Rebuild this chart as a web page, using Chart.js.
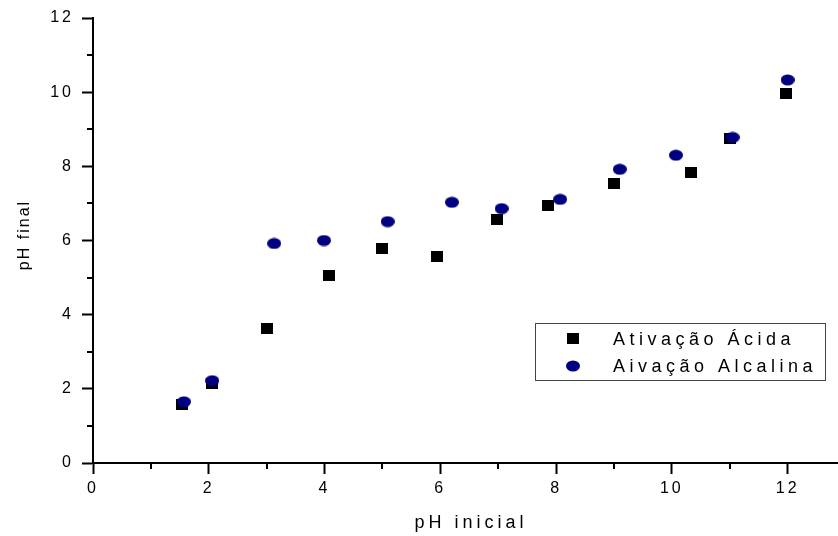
<!DOCTYPE html>
<html lang="pt">
<head>
  <meta charset="UTF-8">
  <title>pH final x pH inicial</title>
  <script src="https://cdn.jsdelivr.net/npm/chart.js"></script>
  <style>
    body {
      margin: 0;
      background: #fff;
    }
    canvas {
      display: block;
    }
  </style>
</head>
<body>
  <canvas id="myChart" width="838" height="536"></canvas>

  <script>
    // values
    const acidX = [1.54, 2.06, 3.0, 4.08, 4.99, 5.94, 6.98, 7.86, 9.0, 10.33, 11.0, 11.97];
    const acidY = [1.59, 2.14, 3.62, 5.05, 5.78, 5.57, 6.57, 6.95, 7.54, 7.84, 8.76, 9.97];
    const alcX = [1.57, 2.06, 3.13, 3.99, 5.09, 6.2, 7.06, 8.07, 9.1, 10.07, 11.05, 12.0];
    const alcY = [1.65, 2.22, 5.92, 6.0, 6.51, 7.03, 6.86, 7.11, 7.92, 8.3, 8.78, 10.33];
    const seriesNames = ['Ativação Ácida', 'Aivação Alcalina'];
    const xTicks = [0, 2, 4, 6, 8, 10, 12];
    const yTicks = [0, 2, 4, 6, 8, 10, 12];
    const xMinor = [1, 3, 5, 7, 9, 11];
    const yMinor = [1, 3, 5, 7, 9, 11];
    const xTitle = 'pH inicial';
    const yTitle = 'pH final';

    const family = 'Arial, "Liberation Sans", sans-serif';

    // marker shapes
    function makeSquare() {
      const c = document.createElement('canvas');
      c.width = 12; c.height = 11;
      const g = c.getContext('2d');
      g.fillStyle = '#000';
      g.fillRect(0, 0, 12, 11);
      return c;
    }
    function makeEllipse() {
      const c = document.createElement('canvas');
      c.width = 14; c.height = 12;
      const g = c.getContext('2d');
      g.fillStyle = '#000080';
      g.beginPath();
      g.ellipse(7, 6, 7, 5.6, 0, 0, Math.PI * 2);
      g.fill();
      return c;
    }
    const squareImg = makeSquare();
    const ellipseImg = makeEllipse();

    const extras = {
      id: 'extras',
      beforeDraw(chart) {
        chart.ctx.letterSpacing = '3px';
      },
      afterDraw(chart) {
        const ctx = chart.ctx;
        const xs = chart.scales.x;
        const ys = chart.scales.y;
        const area = chart.chartArea;
        ctx.save();
        ctx.strokeStyle = '#000';
        ctx.lineWidth = 2;
        ctx.beginPath();
        xMinor.forEach(v => {
          const px = Math.round(xs.getPixelForValue(v));
          ctx.moveTo(px, area.bottom);
          ctx.lineTo(px, area.bottom + 6);
        });
        yMinor.forEach(v => {
          const py = Math.round(ys.getPixelForValue(v));
          ctx.moveTo(area.left, py);
          ctx.lineTo(area.left - 6, py);
        });
        ctx.stroke();

        // axis titles
        ctx.fillStyle = '#000';
        ctx.textAlign = 'center';
        ctx.textBaseline = 'middle';
        ctx.font = '18px ' + family;
        ctx.letterSpacing = '4px';
        ctx.fillText(xTitle, 471, 523);
        ctx.save();
        ctx.translate(25, 236);
        ctx.rotate(-Math.PI / 2);
        ctx.font = '16px ' + family;
        ctx.letterSpacing = '2px';
        ctx.fillText(yTitle, 1, 0);
        ctx.restore();

        // legend
        const bx = 535.5, by = 323.5, bw = 290, bh = 57;
        ctx.lineWidth = 1;
        ctx.strokeStyle = '#444';
        ctx.strokeRect(bx, by, bw, bh);
        ctx.font = '18px ' + family;
        ctx.letterSpacing = '4.5px';
        ctx.textAlign = 'left';
        ctx.textBaseline = 'alphabetic';
        const rows = [
          { img: squareImg, label: seriesNames[0], y: 338, base: 345 },
          { img: ellipseImg, label: seriesNames[1], y: 366, base: 372 }
        ];
        rows.forEach(r => {
          ctx.drawImage(r.img, 573 - r.img.width / 2, r.y - r.img.height / 2);
          ctx.fillText(r.label, 613, r.base);
        });
        ctx.restore();
        ctx.letterSpacing = '0px';
      }
    };

    const ctx = document.getElementById('myChart').getContext('2d');
    new Chart(ctx, {
      type: 'scatter',
      data: {
        datasets: [
          {
            label: seriesNames[1],
            data: alcX.map((x, i) => ({ x: x, y: alcY[i] })),
            pointStyle: ellipseImg,
            order: 0
          },
          {
            label: seriesNames[0],
            data: acidX.map((x, i) => ({ x: x, y: acidY[i] })),
            pointStyle: squareImg,
            order: 1
          }
        ]
      },
      options: {
        responsive: false,
        animation: false,
        events: [],
        layout: { autoPadding: false, padding: { top: 18, right: 0, bottom: 0, left: 0 } },
        plugins: {
          legend: { display: false },
          tooltip: { enabled: false }
        },
        scales: {
          x: {
            type: 'linear',
            min: 0,
            max: 12.87,
            afterBuildTicks: s => { s.ticks = xTicks.map(v => ({ value: v })); },
            afterFit: s => {
              s.height = 73;
              s.paddingLeft = 0;
              s.paddingRight = 0;
            },
            border: { color: '#000', width: 2 },
            grid: { drawOnChartArea: false, tickLength: 11, tickWidth: 2, tickColor: '#000' },
            ticks: {
              color: '#000',
              font: { size: 16, family: family },
              padding: 5,
              maxRotation: 0,
              autoSkip: false
            }
          },
          y: {
            type: 'linear',
            min: 0,
            max: 12,
            afterBuildTicks: s => { s.ticks = yTicks.map(v => ({ value: v })); },
            afterFit: s => { s.width = 93; },
            border: { color: '#000', width: 2 },
            grid: { drawOnChartArea: false, tickLength: 11, tickWidth: 2, tickColor: '#000' },
            ticks: {
              color: '#000',
              font: { size: 16, family: family },
              padding: 8,
              autoSkip: false
            }
          }
        }
      },
      plugins: [extras]
    });
  </script>
</body>
</html>
